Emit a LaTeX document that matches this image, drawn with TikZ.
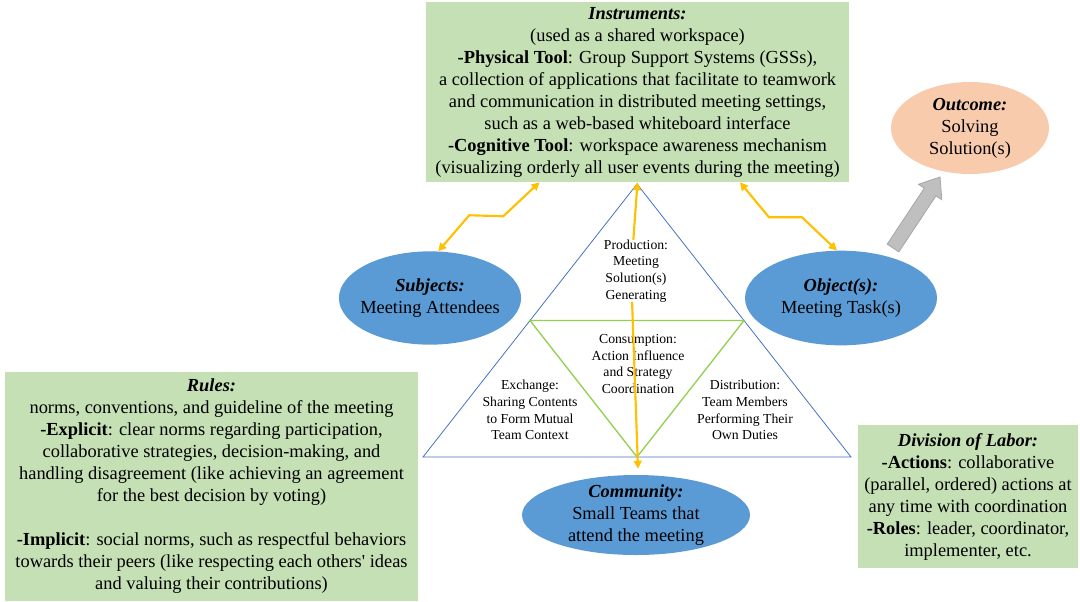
\documentclass[tikz,border=0pt]{standalone}
\usepackage{fontspec}
\setmainfont{Liberation Serif}
\usetikzlibrary{shapes.geometric,arrows.meta,calc}

\definecolor{boxgreen}{RGB}{197,224,180}
\definecolor{ellblue}{RGB}{91,155,213}
\definecolor{peach}{RGB}{248,203,173}
\definecolor{amber}{RGB}{255,192,0}
\definecolor{triblue}{RGB}{68,114,196}
\definecolor{trigreen}{RGB}{146,208,80}

\begin{document}
\begin{tikzpicture}[x=0.75pt,y=0.75pt,yscale=-1,
    greenbox/.style={fill=boxgreen, inner sep=0pt, align=center, font=\fontsize{13.8}{16.5}\selectfont},
    actor/.style={ellipse, fill=ellblue, inner sep=-4pt, align=center, font=\fontsize{13.8}{16.5}\selectfont},
    sublabel/.style={align=center, inner sep=0pt, font=\fontsize{10.3}{12.5}\selectfont},
    link/.style={amber, line width=1.6pt, {Triangle[length=6pt,width=6pt]}-{Triangle[length=6pt,width=6pt]}}
]
\useasboundingbox (0,0) rectangle (1080,601);

% boxes
\node [greenbox, minimum width=317pt, minimum height=135pt] (instr) at (637.5,92) {\textbf{\textit{Instruments:}}\\(used as a shared workspace)\\\textbf{-Physical Tool}: Group Support Systems (GSSs),\\a collection of applications that facilitate to teamwork\\and communication in distributed meeting settings,\\such as a web-based whiteboard interface\\\textbf{-Cognitive Tool}: workspace awareness mechanism\\(visualizing orderly all user events during the meeting)};
\node [greenbox, minimum width=310pt, minimum height=172pt] (rules) at (211.5,486.5) {\textbf{\textit{Rules:}}\\norms, conventions, and guideline of the meeting\\\textbf{-Explicit}: clear norms regarding participation,\\collaborative strategies, decision-making, and\\handling disagreement (like achieving an agreement\\for the best decision by voting)\\[16.5pt]\textbf{-Implicit}: social norms, such as respectful behaviors\\towards their peers (like respecting each others\textquotesingle{} ideas\\and valuing their contributions)};
\node [greenbox, minimum width=165pt, minimum height=107pt] (labor) at (968,496.5) {\textbf{\textit{Division of Labor:}}\\\textbf{-Actions}: collaborative\\(parallel, ordered) actions at\\any time with coordination\\\textbf{-Roles}: leader, coordinator,\\implementer, etc.};

% ellipses
\node [actor, minimum width=135pt, minimum height=70pt] (subjects) at (430,298) {\textbf{\textit{Subjects:}}\\Meeting Attendees};
\node [actor, minimum width=144pt, minimum height=71pt] (objects) at (841,298) {\textbf{\textit{Object(s):}}\\Meeting Task(s)};
\node [actor, minimum width=171pt, minimum height=60pt] (community) at (636,515) {\textbf{\textit{Community:}}\\Small Teams that\\attend the meeting};
\node [actor, fill=peach, minimum width=118.5pt, minimum height=69pt] (outcome) at (970,128) {\textbf{\textit{Outcome:}}\\Solving\\Solution(s)};

% triangles
\coordinate (top) at (637,184);
\coordinate (left) at (423,457);
\coordinate (right) at (851,457);
\draw [triblue, line width=0.6pt] (top) -- (left) -- (right) -- cycle;
\draw [trigreen, line width=1pt] ($(top)!0.5!(left)$) -- ($(top)!0.5!(right)$) -- ($(left)!0.5!(right)$) -- cycle;

\node [sublabel] (exchange) at (530,410) {Exchange:\\Sharing Contents\\to Form Mutual\\Team Context};
\node [sublabel] (distrib) at (745,410) {Distribution:\\Team Members\\Performing Their\\Own Duties};
\node [sublabel] (consum) at (638,364) {Consumption:\\Action Influence\\and Strategy\\Coordination};

% arrows
\coordinate (bend) at (631,272);
\draw [link] (subjects.80) -- ++(31,-36) -- ++(34,1) -- ($(instr.south)+(-98,0)$);
\draw [link] ($(instr.south)+(102.5,0)$) -- ++(29,35) -- ++(33,0) -- (objects.95);
\draw [link] (instr.south) -- (bend) -- ($(community.north)+(2,-6)$);

\node [sublabel, fill=white] (produc) at (636,271) {Production:\\Meeting\\Solution(s)\\Generating};

% block arrow towards the outcome
\draw [fill=black!25, draw=black!35, line width=0.6pt, line join=miter] (898.8,251.9) -- (935.9,195.9) -- (941.8,199.7) -- (940,177) -- (918.4,184.3) -- (924.3,188.1) -- (887.2,244.1) -- cycle;
\end{tikzpicture}
\end{document}
